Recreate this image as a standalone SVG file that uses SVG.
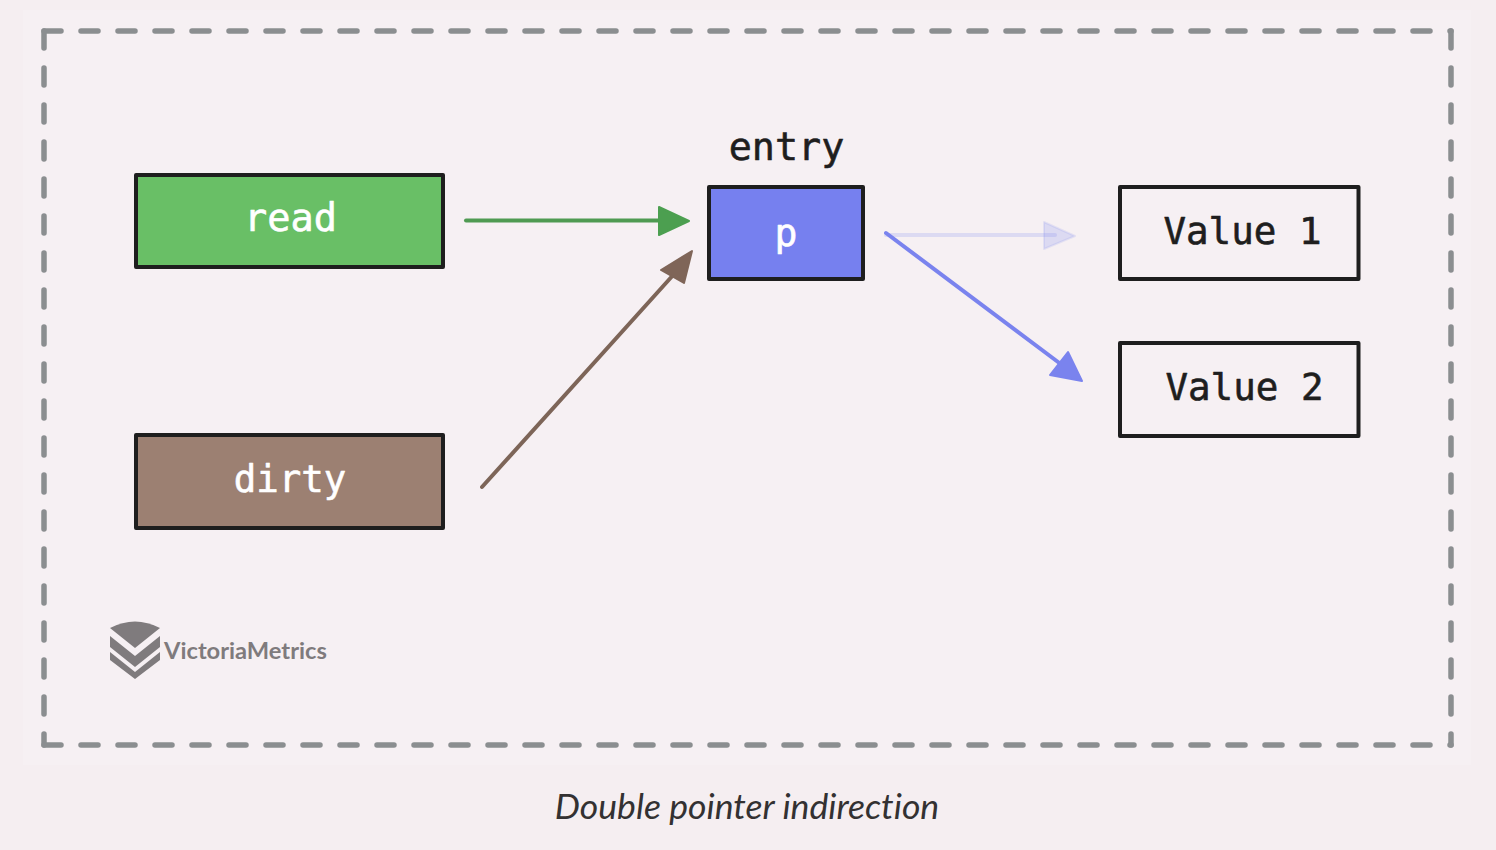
<svg xmlns="http://www.w3.org/2000/svg" width="1496" height="850" viewBox="0 0 1496 850">
<style>
.box{stroke:#1e1e1e;stroke-width:4;stroke-linejoin:round}
.mono{font-family:"DejaVu Sans Mono","Liberation Mono",monospace;text-anchor:middle;stroke-width:.6;stroke-linejoin:round}
.w{fill:#fff;stroke:#fff}
.k{fill:#1e1e1e;stroke:#1e1e1e}
.dash{fill:none;stroke:#8b8e90;stroke-width:5.500;stroke-linecap:round;stroke-dasharray:17 20}
.conn{fill:none;stroke-width:4;stroke-linecap:round}
.head{stroke-width:2;stroke-linejoin:round}
</style>
<rect width="1496" height="850" fill="#f5eef1"/>
<rect x="23" y="10" width="1448" height="755" fill="#f6f0f3"/>
<g id="frame">
<path class="dash" d="M44 31H1451"/>
<path class="dash" d="M44 31V745"/>
<path class="dash" d="M1451 31V745"/>
<path class="dash" d="M44 745H1451"/>
</g>
<g id="connectors">
<path class="conn" stroke="#4f9a52" d="M466 220.500H665"/>
<path class="head" d="M659 207L689 221L659 235Z" fill="#4c9f50" stroke="#4c9f50"/>
<path class="conn" stroke="#7d6558" d="M482 487L675 273"/>
<path class="head" d="M661 270L692 251L684 283Z" fill="#7f6558" stroke="#7f6558"/>
<path class="conn" stroke="#7a83ee" stroke-opacity=".2" d="M886 235H1055"/>
<path d="M1044 222L1075 236L1044 249Z" fill="#7a83ee" fill-opacity=".2" stroke="#7a83ee" stroke-opacity=".15" stroke-width="2" stroke-linejoin="round"/>
<path class="conn" stroke="#7a83ee" d="M886 233L1062 365"/>
<path class="head" d="M1068 352L1082 381L1050 375Z" fill="#7a83ee" stroke="#7a83ee"/>
</g>
<g id="node-read">
<rect class="box" x="136" y="175" width="307" height="92" fill="#69bf66"/>
<text class="mono w" x="290.500" y="231" font-size="38.600">read</text>
</g>
<g id="node-dirty">
<rect class="box" x="136" y="435" width="307" height="93" fill="#9c8072"/>
<text class="mono w" x="290" y="492" font-size="37.400">dirty</text>
</g>
<g id="node-entry">
<text class="mono k" x="786.500" y="160" font-size="38.400">entry</text>
<rect class="box" x="709" y="187" width="154" height="92" fill="#7680ef"/>
<text class="mono w" x="786" y="246" font-size="38">p</text>
</g>
<g id="node-value1">
<rect class="box" x="1120" y="187" width="238.500" height="92" fill="none"/>
<text class="mono k" x="1242.500" y="244" font-size="37.500">Value 1</text>
</g>
<g id="node-value2">
<rect class="box" x="1120" y="343" width="238.500" height="93" fill="none"/>
<text class="mono k" x="1244.500" y="400" font-size="37.500">Value 2</text>
</g>
<g id="logo" fill="#7f7b7d">
<path d="M110 628Q135 615 160 628L135 648Z"/>
<path d="M110 636L135 656L160 636V647L135 667L110 647Z"/>
<path d="M110 652L135 672L160 652V660L135 679L110 660Z"/>
<text x="164" y="659" font-family="Lato,'Open Sans',sans-serif" font-size="23.700" font-weight="700">VictoriaMetrics</text>
</g>
<text id="caption" x="747" y="819" text-anchor="middle" font-family="Lato,'Open Sans',sans-serif" font-style="italic" font-size="35.600" fill="#333132" style="font-variant-ligatures:none">Double pointer indirection</text>
</svg>
